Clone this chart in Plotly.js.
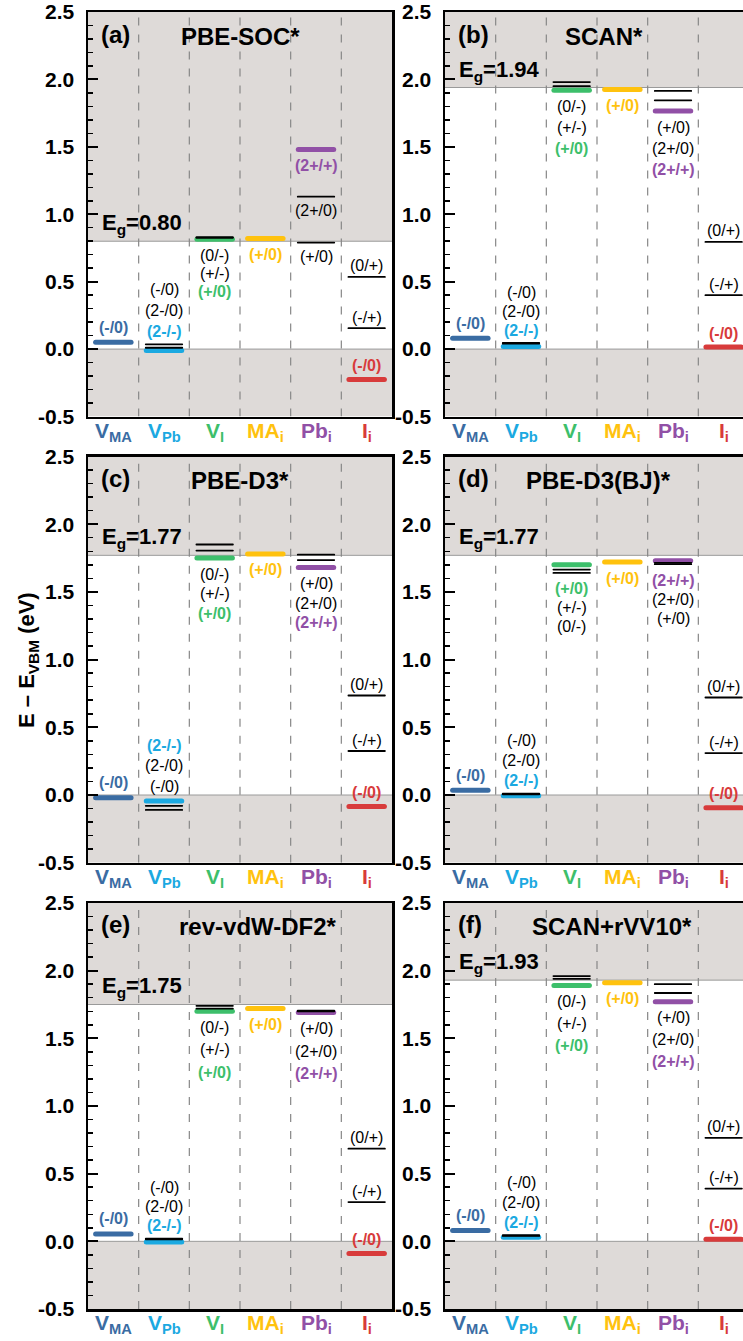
<!DOCTYPE html>
<html>
<head>
<meta charset="utf-8">
<script src="https://cdn.plot.ly/plotly-3.0.1.min.js"></script>
<style>
  html, body { margin: 0; padding: 0; overflow: hidden; background: #fff; }
  #fig { width: 760px; height: 1341px; }
  .scatterlayer path.js-line { stroke-linecap: round; }
</style>
</head>
<body>
<div id="fig"></div>
<script>
// Defect species on the x axis and their colours
const defects = ['V<sub>MA</sub>', 'V<sub>Pb</sub>', 'V<sub>I</sub>', 'MA<sub>i</sub>', 'Pb<sub>i</sub>', 'I<sub>i</sub>'];
const defectColors = ['#3A6CA3', '#1BA9E1', '#3DBF6B', '#FFC20E', '#9150A6', '#D83B3B'];

// Functionals, one panel each (a)-(f)
const panelTags = ['(a)', '(b)', '(c)', '(d)', '(e)', '(f)'];
const functionals = ['PBE-SOC*', 'SCAN*', 'PBE-D3*', 'PBE-D3(BJ)*', 'rev-vdW-DF2*', 'SCAN+rVV10*'];
const bandGaps = [0.80, 1.94, 1.77, 1.77, 1.75, 1.93];

// Charge-transition levels (eV above the VBM), one value per functional (a)-(f)
const vMA_m0  = [0.05, 0.08, -0.02, 0.035, 0.055, 0.08];
const vPb_m0  = [0.035, 0.045, -0.11, 0.01, 0.02, 0.045];
const vPb_2m0 = [0.01, 0.04, -0.08, 0.005, 0.015, 0.04];
const vPb_2mm = [-0.01, 0.02, -0.045, -0.005, -0.005, 0.03];
const vI_0m   = [0.83, 1.98, 1.85, 1.64, 1.74, 1.96];
const vI_pm   = [0.825, 1.95, 1.805, 1.665, 1.72, 1.94];
const vI_p0   = [0.815, 1.92, 1.75, 1.70, 1.70, 1.89];
const maI_p0  = [0.82, 1.925, 1.78, 1.72, 1.72, 1.91];
const pbI_p0  = [0.79, 1.915, 1.775, 1.705, 1.705, 1.90];
const pbI_2p0 = [1.13, 1.845, 1.735, 1.715, 1.70, 1.835];
const pbI_2pp = [1.48, 1.765, 1.68, 1.73, 1.69, 1.77];
const iI_0p   = [0.535, 0.795, 0.735, 0.72, 0.685, 0.765];
const iI_mp   = [0.155, 0.40, 0.325, 0.31, 0.29, 0.39];
const iI_m0   = [-0.225, 0.015, -0.085, -0.095, -0.09, 0.015];

// [column, transition label, values, drawn in the defect colour]
const transitions = [
  [0, '(-/0)',  vMA_m0,  true],
  [1, '(-/0)',  vPb_m0,  false],
  [1, '(2-/0)', vPb_2m0, false],
  [1, '(2-/-)', vPb_2mm, true],
  [2, '(0/-)',  vI_0m,   false],
  [2, '(+/-)',  vI_pm,   false],
  [2, '(+/0)',  vI_p0,   true],
  [3, '(+/0)',  maI_p0,  true],
  [4, '(+/0)',  pbI_p0,  false],
  [4, '(2+/0)', pbI_2p0, false],
  [4, '(2+/+)', pbI_2pp, true],
  [5, '(0/+)',  iI_0p,   false],
  [5, '(-/+)',  iI_mp,   false],
  [5, '(-/0)',  iI_m0,   true]
];
const labelSide = ['above', 'above', 'below', 'below', 'below', 'above'];

const yTickVals = [-0.5, 0, 0.5, 1.0, 1.5, 2.0, 2.5];
const yTickText = ['-0.5', '0.0', '0.5', '1.0', '1.5', '2.0', '2.5'];

// ---- page geometry (px) ----
const W = 760, H = 1341;
const colPx = [[88, 392], [445, 749]];
const rowPx = [[12, 416.5], [456.5, 862.7], [903, 1309]];
const titleX = [3.0, 3.13, 3.0, 3.02, 3.35, 3.29];
const stepAbove = [21, 19, 20.5, 20.3, 19, 20];
const stepBelow = [18, 21, 19.5, 19, 22.5, 22];
const FONT = 'Liberation Sans, Arial, Helvetica, sans-serif';
const SHADE = '#DEDAD8';

const traces = [];
const shapes = [];
const annotations = [];
const layout = {
  width: W, height: H,
  margin: { l: 0, r: 0, t: 0, b: 0 },
  paper_bgcolor: '#fff', plot_bgcolor: '#fff',
  showlegend: false,
  font: { family: FONT, color: '#000' }
};

for (let p = 0; p < 6; p++) {
  const n = p + 1;
  const xa = 'x' + (n === 1 ? '' : n), ya = 'y' + (n === 1 ? '' : n);
  const col = colPx[p % 2], row = rowPx[Math.floor(p / 2)];

  layout['xaxis' + (n === 1 ? '' : n)] = {
    domain: [col[0] / W, col[1] / W], anchor: ya,
    range: [0, 6], fixedrange: true,
    showgrid: false, zeroline: false,
    showline: true, mirror: true, linewidth: 2.5, linecolor: '#000',
    ticks: '', showticklabels: false
  };
  layout['yaxis' + (n === 1 ? '' : n)] = {
    domain: [1 - row[1] / H, 1 - row[0] / H], anchor: xa,
    range: [-0.5, 2.5], fixedrange: true,
    showgrid: false, zeroline: false,
    showline: true, mirror: true, linewidth: 2.5, linecolor: '#000',
    tickmode: 'array', tickvals: yTickVals, ticktext: yTickText,
    ticks: 'inside', ticklen: 10, tickwidth: 2, tickcolor: '#000',
    minor: { tickmode: 'linear', tick0: -0.5, dtick: 0.1, ticks: 'inside', ticklen: 5, tickwidth: 1.5, tickcolor: '#000', showgrid: false },
    tickfont: { family: FONT, size: 21, weight: 'bold' },
    ticklabelstandoff: 7
  };

  // defect names under each column
  defects.forEach((d, i) => {
    annotations.push({ xref: xa, yref: ya, x: i + 0.5, y: -0.5, yshift: 0, xanchor: 'center', yanchor: 'top',
      showarrow: false, text: d, font: { family: FONT, size: 21, weight: 'bold', color: defectColors[i] } });
  });

  // shaded valence and conduction bands
  const eg = bandGaps[p];
  shapes.push({ type: 'rect', xref: xa, yref: ya, x0: 0, x1: 6, y0: -0.5, y1: 0, fillcolor: SHADE, line: { width: 0 }, layer: 'below' });
  shapes.push({ type: 'rect', xref: xa, yref: ya, x0: 0, x1: 6, y0: eg, y1: 2.5, fillcolor: SHADE, line: { width: 0 }, layer: 'below' });
  shapes.push({ type: 'line', xref: xa, yref: ya, x0: 0, x1: 6, y0: 0, y1: 0, line: { color: '#9A9A9A', width: 1 }, layer: 'below' });
  shapes.push({ type: 'line', xref: xa, yref: ya, x0: 0, x1: 6, y0: eg, y1: eg, line: { color: '#9A9A9A', width: 1 }, layer: 'below' });
  for (let k = 1; k < 6; k++) {
    shapes.push({ type: 'line', xref: xa, yref: ya, x0: k, x1: k, y0: -0.5, y1: 2.5, line: { color: '#878787', width: 1.2, dash: '8px,9px' }, layer: 'below' });
  }

  // level segments: coloured bars first, thin black lines on top
  const bx = [], by = [];
  for (let c = 0; c < 6; c++) {
    const cx = [], cy = [];
    transitions.filter(t => t[0] === c).forEach(t => {
      const v = t[2][p];
      if (t[3]) { cx.push(c + 0.15, c + 0.85, null); cy.push(v, v, null); }
      else { bx.push(c + 0.14, c + 0.86, null); by.push(v, v, null); }
    });
    traces.push({ type: 'scatter', mode: 'lines', xaxis: xa, yaxis: ya, x: cx, y: cy, hoverinfo: 'skip',
      line: { color: defectColors[c], width: 5 } });
  }
  traces.push({ type: 'scatter', mode: 'lines', xaxis: xa, yaxis: ya, x: bx, y: by, hoverinfo: 'skip',
    line: { color: '#000', width: 1.8 } });

  // transition labels
  for (let c = 0; c < 6; c++) {
    const lv = transitions.filter(t => t[0] === c)
      .map(t => ({ text: t[1], v: t[2][p], main: t[3] }))
      .sort((a, b) => b.v - a.v);
    const vals = lv.map(l => l.v);
    const spread = Math.max(...vals) - Math.min(...vals);
    const above = labelSide[c] === 'above';
    lv.forEach((l, k) => {
      let y, ys;
      if (spread > 0.25) {
        y = l.v;
        ys = above ? (l.main ? 14 : 11) : -(l.main ? 16 : 14);
      } else if (above) {
        y = vals[0];
        ys = (lv[0].main ? 15 : 13) + (lv.length - 1 - k) * stepAbove[p];
      } else {
        y = vals[vals.length - 1];
        ys = -(16 + k * stepBelow[p]);
      }
      annotations.push({
        xref: xa, yref: ya, x: c + 0.5, y: y, yshift: ys,
        xanchor: 'center', yanchor: 'middle', showarrow: false,
        text: l.text,
        font: { family: FONT, size: 16, color: l.main ? defectColors[c] : '#000', weight: l.main ? 'bold' : 'normal' }
      });
    });
  }

  // panel tag, functional and band gap
  annotations.push({ xref: xa, yref: ya, x: 0, y: 2.5, xshift: 11, yshift: -22, xanchor: 'left', yanchor: 'middle',
    showarrow: false, text: panelTags[p], font: { family: FONT, size: 24, weight: 'bold' } });
  annotations.push({ xref: xa, yref: ya, x: titleX[p], y: 2.5, yshift: -24, xanchor: 'center', yanchor: 'middle',
    showarrow: false, text: functionals[p], font: { family: FONT, size: 24, weight: 'bold' } });
  annotations.push({ xref: xa, yref: ya, x: 0, y: eg, xshift: 12, yshift: 1, xanchor: 'left', yanchor: 'bottom',
    showarrow: false, text: 'E<sub>g</sub>=' + eg.toFixed(2), font: { family: FONT, size: 22, weight: 'bold' } });
}

// shared y-axis title
annotations.push({ xref: 'paper', yref: 'paper', x: 28 / W, y: 1 - 660 / H, xanchor: 'center', yanchor: 'middle',
  textangle: -90, showarrow: false, text: 'E – E<sub>VBM</sub> (eV)', font: { family: FONT, size: 22, weight: 'bold' } });

layout.shapes = shapes;
layout.annotations = annotations;

Plotly.newPlot('fig', traces, layout, { displayModeBar: false, staticPlot: true });
</script>
</body>
</html>
